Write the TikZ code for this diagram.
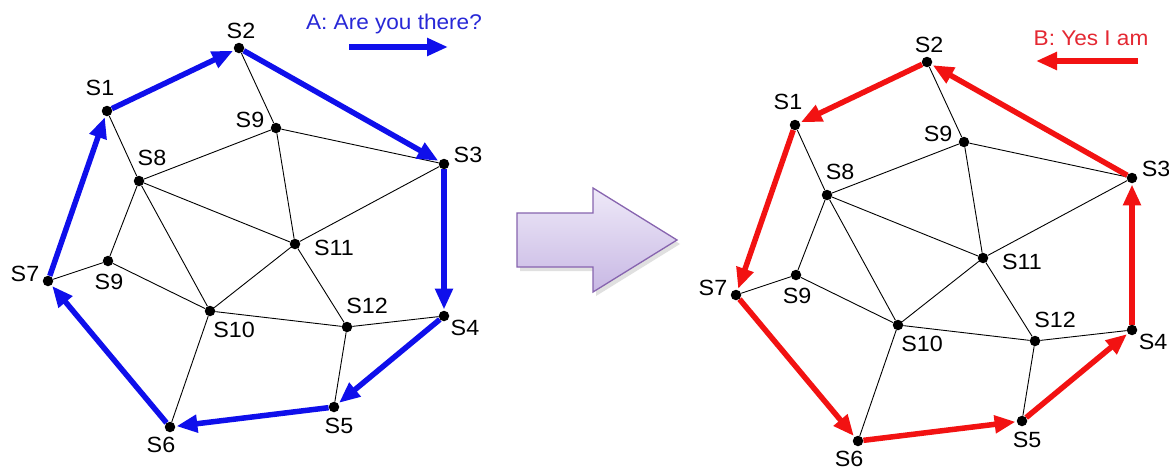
\documentclass[tikz,border=0pt]{standalone}
\usepackage{fontspec}
\setmainfont[FakeStretch=1.06]{Liberation Sans}
\usetikzlibrary{arrows.meta}
\pgfdeclarelayer{back}
\pgfdeclarelayer{bg}
\pgfsetlayers{back,bg,main}
\definecolor{pathblue}{RGB}{15,15,235}
\definecolor{textblue}{RGB}{40,40,215}
\definecolor{pathred}{RGB}{242,18,18}
\definecolor{textred}{RGB}{228,40,50}
\definecolor{lavtop}{RGB}{238,233,248}
\definecolor{lavbot}{RGB}{200,184,228}
\definecolor{lavedge}{RGB}{135,100,175}
\tikzset{
  dot/.style={circle,fill=black,inner sep=0pt,minimum size=10.5pt},
  lbl/.style={inner sep=0pt,font=\fontsize{22}{26}\selectfont},
  thinedge/.style={black,line width=0.9pt},
  ring/.style={line width=5.5pt,-{Triangle[length=21pt,width=17pt]},shorten >=1pt},
  bluering/.style={ring,draw=pathblue,color=pathblue},
  redring/.style={ring,draw=pathred,color=pathred},
  legend/.style={inner sep=0pt,font=\fontsize{21.3}{25}\selectfont,anchor=base},
}
\newcommand\mynet[3]{%
\begin{scope}[shift={(#2,#3)}]
  \node[dot] (#1s1)  at (107,111) {};
  \node[dot] (#1s2)  at (239,48) {};
  \node[dot] (#1s3)  at (444,164) {};
  \node[dot] (#1s4)  at (444,316) {};
  \node[dot] (#1s5)  at (334,407) {};
  \node[dot] (#1s6)  at (170,427) {};
  \node[dot] (#1s7)  at (48,281) {};
  \node[dot] (#1s8)  at (139,181) {};
  \node[dot] (#1s9)  at (276,128) {};
  \node[dot] (#1s9b) at (108,261) {};
  \node[dot] (#1s10) at (210,311) {};
  \node[dot] (#1s11) at (295,244) {};
  \node[dot] (#1s12) at (347,327) {};
  \node[lbl] (#1l1)  at (100,88) {S1};
  \node[lbl] (#1l2)  at (241,31) {S2};
  \node[lbl] (#1l3)  at (468,155) {S3};
  \node[lbl] (#1l4)  at (465,328) {S4};
  \node[lbl] (#1l5)  at (339,426) {S5};
  \node[lbl] (#1l6)  at (161,445) {S6};
  \node[lbl] (#1l7)  at (25,274) {S7};
  \node[lbl] (#1l8)  at (152,158) {S8};
  \node[lbl] (#1l9)  at (250,120) {S9};
  \node[lbl] (#1l9b) at (109,282) {S9};
  \node[lbl] (#1l10) at (234,330) {S10};
  \node[lbl] (#1l11) at (334,248) {S11};
  \node[lbl] (#1l12) at (367,306) {S12};
  \begin{pgfonlayer}{bg}
    \draw[thinedge] (#1s2) -- (#1s9);
    \draw[thinedge] (#1s9) -- (#1s3);
    \draw[thinedge] (#1s9) -- (#1s8);
    \draw[thinedge] (#1s9) -- (#1s11);
    \draw[thinedge] (#1s1) -- (#1s8);
    \draw[thinedge] (#1s8) -- (#1s11);
    \draw[thinedge] (#1s8) -- (#1s9b);
    \draw[thinedge] (#1s8) -- (#1s10);
    \draw[thinedge] (#1s3) -- (#1s11);
    \draw[thinedge] (#1s11) -- (#1s10);
    \draw[thinedge] (#1s11) -- (#1s12);
    \draw[thinedge] (#1s7) -- (#1s9b);
    \draw[thinedge] (#1s9b) -- (#1s10);
    \draw[thinedge] (#1s10) -- (#1s12);
    \draw[thinedge] (#1s10) -- (#1s6);
    \draw[thinedge] (#1s12) -- (#1s4);
    \draw[thinedge] (#1s12) -- (#1s5);
  \end{pgfonlayer}
\end{scope}}
\begin{document}
\begin{tikzpicture}[x=1pt,y=-1pt]
  \useasboundingbox (0,0) rectangle (1169,469);
  \begin{pgfonlayer}{back}
    \fill[white] (0,0) rectangle (1169,469);
  \end{pgfonlayer}
  % left network
  \mynet{a}{0}{0}
  \begin{pgfonlayer}{bg}
    \draw[bluering] (as1) -- (as2);
    \draw[bluering] (as2) -- (as3);
    \draw[bluering] (as3) -- (as4);
    \draw[bluering] (as4) -- (as5);
    \draw[bluering] (as5) -- (as6);
    \draw[bluering] (as6) -- (as7);
    \draw[bluering] (as7) -- (as1);
  \end{pgfonlayer}
  \node[legend,text=textblue] (atext) at (394,29) {A: Are you there?};
  \coordinate (aleg1) at (349,47);
  \coordinate (aleg2) at (448,47);
  \draw[bluering,shorten >=0pt] (aleg1) -- (aleg2);
  % right network
  \mynet{b}{688}{14}
  \begin{pgfonlayer}{bg}
    \draw[redring] (bs3) -- (bs2);
    \draw[redring] (bs2) -- (bs1);
    \draw[redring] (bs1) -- (bs7);
    \draw[redring] (bs7) -- (bs6);
    \draw[redring] (bs6) -- (bs5);
    \draw[redring] (bs5) -- (bs4);
    \draw[redring] (bs4) -- (bs3);
  \end{pgfonlayer}
  \node[legend,text=textred] (btext) at (1091,45) {B: Yes I am};
  \coordinate (bleg1) at (1138,61);
  \coordinate (bleg2) at (1036,61);
  \draw[redring,shorten >=0pt] (bleg1) -- (bleg2);
  % big arrow
  \fill[black!12] (520,217) -- (596,217) -- (596,192) -- (680,244) -- (596,296) -- (596,271) -- (520,271) -- cycle;
  \shade[top color=lavtop,bottom color=lavbot,draw=lavedge,line width=1.3pt,line join=miter]
    (517,213) -- (593,213) -- (593,188) -- (677,240) -- (593,292) -- (593,267) -- (517,267) -- cycle;
\end{tikzpicture}
\end{document}
